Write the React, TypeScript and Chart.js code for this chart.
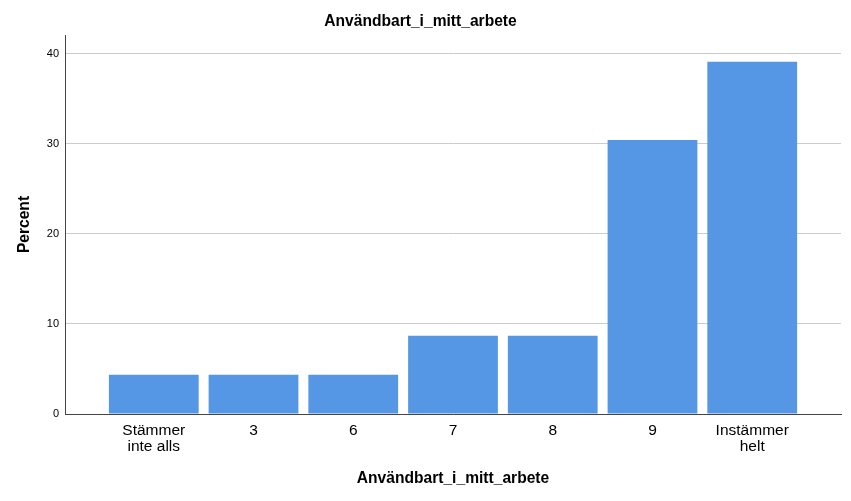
import React, { useEffect, useRef } from "react";
import { Chart, registerables } from "chart.js";

Chart.register(...registerables);

const categories: string[][] = [
  ["Stämmer", "inte alls"],
  ["3"],
  ["6"],
  ["7"],
  ["8"],
  ["9"],
  ["Instämmer", "helt"],
];
const percentValues: number[] = [4.35, 4.35, 4.35, 8.7, 8.7, 30.43, 39.13];
const yTickValues: number[] = [0, 10, 20, 30, 40];
const chartTitle = "Användbart_i_mitt_arbete";
const xAxisTitle = "Användbart_i_mitt_arbete";
const yAxisTitle = "Percent";

const FONT = "'Liberation Sans', Arial, Helvetica, sans-serif";

export default function App() {
  const canvasRef = useRef<HTMLCanvasElement | null>(null);

  useEffect(() => {
    document.body.style.margin = "0";
    const canvas = canvasRef.current;
    if (!canvas) return;
    const chart = new Chart(canvas, {
      type: "bar",
      data: {
        datasets: [
          {
            data: percentValues.map((v, i) => ({ x: i, y: v })),
            backgroundColor: "#5596e5",
            borderWidth: 0,
            barPercentage: 0.9,
            categoryPercentage: 1,
          },
        ],
      },
      options: {
        animation: false,
        responsive: false,
        maintainAspectRatio: false,
        layout: { padding: { left: 0, right: 10, top: 0, bottom: 0 } },
        plugins: {
          legend: { display: false },
          tooltip: { enabled: false },
          title: {
            display: true,
            text: chartTitle,
            color: "#000",
            font: { family: FONT, size: 15.6, weight: "bold", lineHeight: 1.2 },
            padding: { top: 12.6, bottom: 3.7 },
          },
        },
        scales: {
          x: {
            type: "linear",
            offset: false,
            min: -0.89,
            max: 6.89,
            grid: { display: false, drawTicks: false, offset: false },
            border: { display: true, color: "#444", width: 1 },
            afterBuildTicks: (scale: any) => {
              scale.ticks = categories.map((_, i) => ({ value: i }));
            },
            afterFit: (scale: any) => {
              scale.height = 87;
            },
            ticks: {
              autoSkip: false,
              maxRotation: 0,
              padding: 9,
              color: "#000",
              font: { family: FONT, size: 15.5, lineHeight: 1.0 },
              callback: (value: any) => {
                const idx = Math.round(Number(value));
                return categories[idx] ?? "";
              },
            },
            title: {
              display: true,
              text: xAxisTitle,
              color: "#000",
              font: { family: FONT, size: 15.6, weight: "bold", lineHeight: 1.2 },
              padding: { top: 0, bottom: 12.6 },
            },
          },
          y: {
            type: "linear",
            min: 0,
            max: 42.1,
            grid: {
              display: true,
              color: "#cccccc",
              lineWidth: 1,
              drawTicks: false,
            },
            border: { display: true, color: "#444", width: 1 },
            afterBuildTicks: (scale: any) => {
              scale.ticks = yTickValues.map((v) => ({ value: v }));
            },
            afterFit: (scale: any) => {
              scale.width = 65;
            },
            ticks: {
              padding: 6,
              color: "#000",
              font: { family: FONT, size: 11 },
              callback: (value: any) => String(value),
            },
            title: {
              display: true,
              text: yAxisTitle,
              color: "#000",
              font: { family: FONT, size: 15.6, weight: "bold", lineHeight: 1.2 },
              padding: { top: 15.6, bottom: 0 },
            },
          },
        },
      },
    });
    return () => {
      chart.destroy();
    };
  }, []);

  return (
    <div style={{ position: "absolute", left: 0, top: 0, width: 851, height: 501, background: "#fff" }}>
      <canvas ref={canvasRef} width={851} height={501} style={{ width: 851, height: 501, display: "block" }} />
    </div>
  );
}
